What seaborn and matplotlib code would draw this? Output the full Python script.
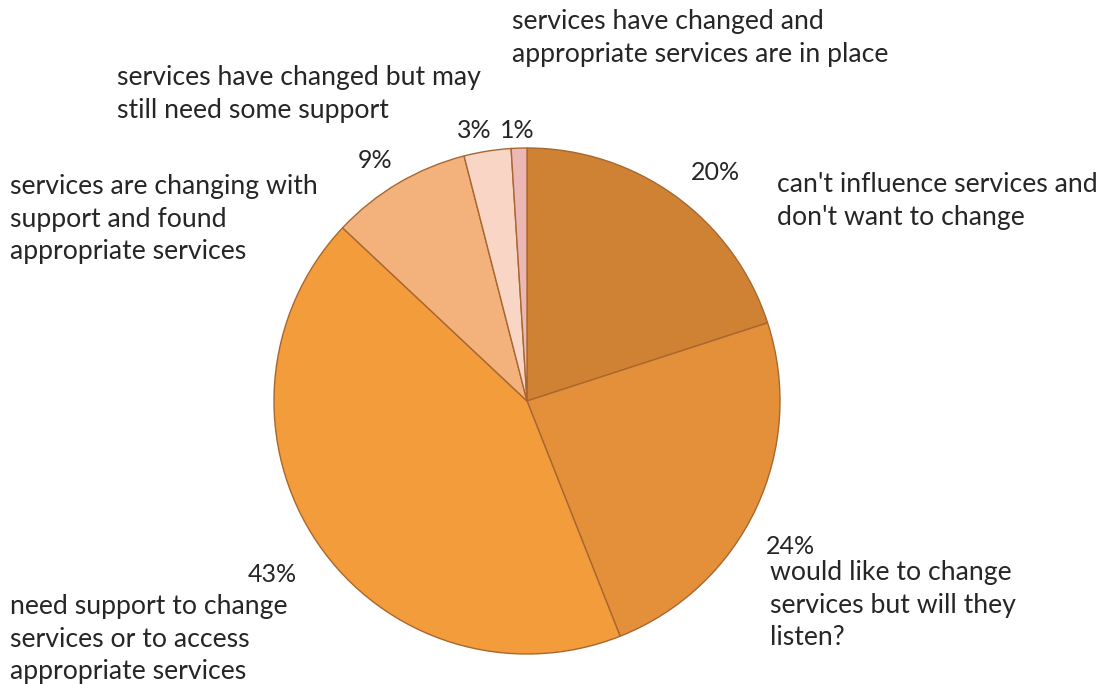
import matplotlib
matplotlib.use("Agg")
import matplotlib.pyplot as plt
import seaborn as sns

# Survey responses, clockwise from 12 o'clock
categories = [
    "can't influence services and\ndon't want to change",
    "would like to change\nservices but will they\nlisten?",
    "need support to change\nservices or to access\nappropriate services",
    "services are changing with\nsupport and found\nappropriate services",
    "services have changed but may\nstill need some support",
    "services have changed and\nappropriate services are in place",
]
shares = [20, 24, 43, 9, 3, 1]

colors = ["#CF8233", "#E48F3A", "#F29C3C", "#F3B27C", "#F8D5C4", "#EBB8B6"]

sns.set_theme(style="white")
plt.rcParams["font.family"] = ["Lato", "DejaVu Sans"]

W, H = 1105, 684
fig = plt.figure(figsize=(W / 100, H / 100), dpi=100)
ax = fig.add_axes([0, 0, 1, 1])

cx, cy, r = 527, H - 401, 253
ax.pie(shares, colors=colors, startangle=90, counterclock=False,
       center=(cx, cy), radius=r,
       wedgeprops=dict(edgecolor="#A9672F", linewidth=1.0))
ax.set_xlim(0, W)
ax.set_ylim(0, H)
ax.set_aspect("equal")
ax.axis("off")

txt = dict(color="#262626", fontsize=19.2, linespacing=1.38)

# percentage labels (x, y in pixels from top-left, centre aligned)
pct_pos = [(715, 172), (790, 547), (272, 575), (375, 160), (474, 131), (517, 131)]
for v, (x, y) in zip(shares, pct_pos):
    ax.text(x, H - y, f"{v}%", ha="center", va="center",
            **{**txt, "fontsize": 18.0})

# category labels (left x, top y in pixels)
cat_pos = [(777, 172), (770, 560), (10, 594), (10, 174), (117, 65), (512, 9)]
for c, (x, y) in zip(categories, cat_pos):
    ax.text(x, H - y, c, ha="left", va="top", **txt)

fig.savefig("out.png", dpi=100, facecolor="white")
